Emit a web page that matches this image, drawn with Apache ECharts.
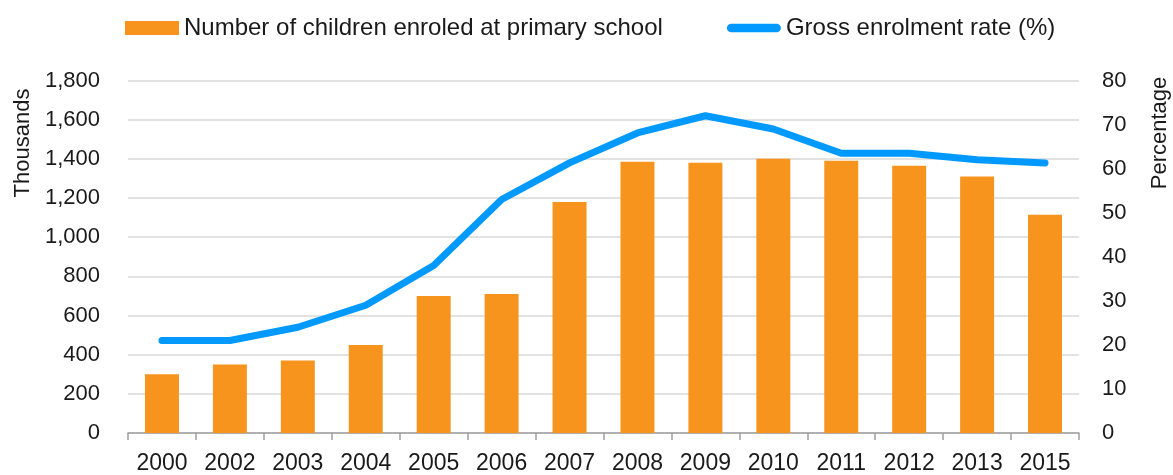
<!DOCTYPE html>
<html>
<head>
<meta charset="utf-8">
<script src="https://cdn.jsdelivr.net/npm/echarts@6/dist/echarts.min.js"></script>
<style>
html,body{margin:0;padding:0;background:#fff;}
#chart{width:1173px;height:475px;}
</style>
</head>
<body>
<div id="chart"></div>
<script>
var categories = ['2000','2002','2003','2004','2005','2006','2007','2008','2009','2010','2011','2012','2013','2015'];
var enrolled = [300, 350, 370, 450, 700, 710, 1180, 1385, 1380, 1400, 1390, 1365, 1310, 1115];
var grossRate = [21, 21, 24, 29, 38, 53, 61.3, 68.1, 72, 69, 63.5, 63.5, 62, 61.3];
var barName = 'Number of children enroled at primary school';
var lineName = 'Gross enrolment rate (%)';
var leftTitle = 'Thousands';
var rightTitle = 'Percentage';

var FONT = '"Liberation Sans", Arial, sans-serif';
var TXT = '#1a1a1a';
var chart = echarts.init(document.getElementById('chart'), null, {renderer: 'canvas'});
chart.setOption({
  animation: false,
  backgroundColor: '#fff',
  textStyle: {fontFamily: FONT, color: TXT},
  grid: {left: 128, right: 94, top: 80.5, bottom: 40.3, containLabel: false},
  legend: {
    left: 125, top: 16, padding: 0,
    itemWidth: 54, itemHeight: 14, itemGap: 64,
    textStyle: {fontFamily: FONT, fontSize: 24, color: TXT},
    data: [
      {name: barName, icon: 'rect'},
      {name: lineName, icon: 'path://M4.5,0 L51.5,0 A4.5,4.5 0 0 1 51.5,9 L4.5,9 A4.5,4.5 0 0 1 4.5,0 Z'}
    ]
  },
  xAxis: {
    type: 'category',
    data: categories,
    boundaryGap: true,
    axisLine: {lineStyle: {color: '#a0a0a0', width: 1.5}},
    axisTick: {show: true, alignWithLabel: false, length: 7, lineStyle: {color: '#a0a0a0', width: 1.5}},
    axisLabel: {fontFamily: FONT, fontSize: 23, color: TXT, margin: 19}
  },
  yAxis: [
    {
      type: 'value', min: 0, max: 1800, interval: 200,
      axisLine: {show: false}, axisTick: {show: false},
      splitLine: {lineStyle: {color: '#d9d9d9', width: 1.5}},
      axisLabel: {fontFamily: FONT, fontSize: 22, color: TXT, margin: 28,
        formatter: function (v) { return v.toLocaleString('en-US'); }}
    },
    {
      type: 'value', min: 0, max: 80, interval: 10, position: 'right',
      axisLine: {show: false}, axisTick: {show: false},
      splitLine: {show: false},
      axisLabel: {fontFamily: FONT, fontSize: 22, color: TXT, margin: 23}
    }
  ],
  graphic: [
    {type: 'text', x: 23, y: 143, rotation: Math.PI / 2,
      style: {text: leftTitle, font: '22px ' + FONT, fill: TXT, align: 'center', verticalAlign: 'middle'}},
    {type: 'text', x: 1160, y: 133, rotation: Math.PI / 2,
      style: {text: rightTitle, font: '22px ' + FONT, fill: TXT, align: 'center', verticalAlign: 'middle'}}
  ],
  series: [
    {
      name: barName, type: 'bar', yAxisIndex: 0, data: enrolled,
      barWidth: '50%',
      itemStyle: {color: '#F7941D'}
    },
    {
      name: lineName, type: 'line', yAxisIndex: 1, data: grossRate,
      symbol: 'none', smooth: false,
      lineStyle: {color: '#0099FF', width: 7, cap: 'round', join: 'round'},
      itemStyle: {color: '#0099FF'}
    }
  ]
});
</script>
</body>
</html>
